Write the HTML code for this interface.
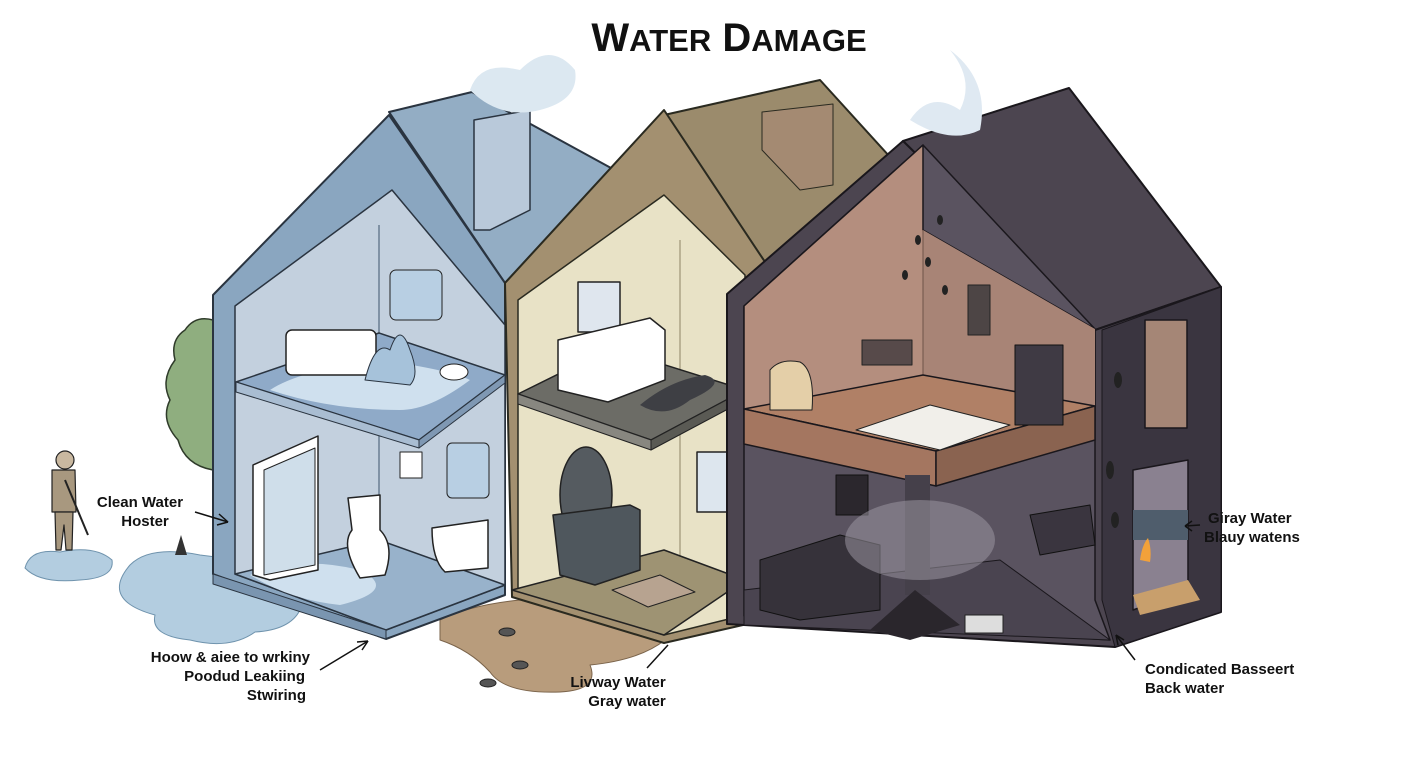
<!DOCTYPE html>
<html><head><meta charset="utf-8"><style>
html,body{margin:0;padding:0;background:#fff}
svg{display:block}
text{font-family:"Liberation Sans",sans-serif;font-weight:bold;fill:#111}
</style></head><body>
<svg width="1408" height="768" viewBox="0 0 1408 768" xmlns="http://www.w3.org/2000/svg" stroke-linejoin="round">
<rect width="1408" height="768" fill="#fff"/>
<text x="729" y="51" text-anchor="middle" font-size="40" font-weight="900">W<tspan font-size="31">ATER</tspan> D<tspan font-size="31">AMAGE</tspan></text>

<path d="M25 568 Q30 548 60 552 Q95 545 112 560 Q115 578 80 580 Q40 584 25 568Z" fill="#b3cde0" stroke="#6f93ad"/>
<path d="M130 565 Q150 545 200 555 L240 560 L300 610 Q290 630 255 632 Q230 650 190 640 Q150 636 155 615 Q100 600 130 565Z" fill="#b3cde0" stroke="#6f93ad"/>
<path d="M440 620 Q470 605 520 600 L665 640 Q640 660 590 665 Q600 690 560 692 Q505 694 490 672 Q470 650 440 640Z" fill="#b89c7c" stroke="#7a634a"/>
<g fill="#555" stroke="#222"><ellipse cx="507" cy="632" rx="8" ry="4"/><ellipse cx="520" cy="665" rx="8" ry="4"/><ellipse cx="488" cy="683" rx="8" ry="4"/></g>

<path d="M213 320 Q195 315 185 330 Q170 340 175 360 Q160 380 170 400 Q160 420 178 440 Q185 465 213 470Z" fill="#8fae7f" stroke="#2f3b2a" stroke-width="1.5"/>

<g stroke="#222" stroke-width="1.2">
<circle cx="65" cy="460" r="9" fill="#c9b8a0"/>
<path d="M52 470 L75 470 L76 512 L52 512Z" fill="#a8987f"/>
<path d="M55 512 L73 512 L72 550 L66 550 L64 525 L61 550 L56 550Z" fill="#a8987f"/>
<line x1="65" y1="480" x2="88" y2="535" stroke-width="2"/>
</g>
<path d="M175 555 L181 535 L187 555Z" fill="#333"/>

<!-- HOUSE 1 -->
<polygon points="389,112 472,92 611,168 505,283" fill="#93adc4" stroke="#2a3440" stroke-width="2"/>
<polygon points="213,295 389,115 505,283 505,595 386,639 213,574" fill="#8aa6c0" stroke="#2a3440" stroke-width="2"/>
<polygon points="235,306 392,190 505,325 505,585 386,630 235,574" fill="#c3d0de" stroke="#2a3440" stroke-width="1.5"/>
<line x1="379" y1="225" x2="379" y2="560" stroke="#6a7e92" stroke-width="1.5"/>
<polygon points="236,382 379,333 505,375 419,440" fill="#8faac8" stroke="#2a3440" stroke-width="1.5"/>
<polygon points="236,382 419,440 419,448 236,392" fill="#a9bdd2" stroke="#2a3440"/>
<polygon points="419,440 505,375 505,383 419,448" fill="#7f98b3" stroke="#2a3440"/>
<path d="M270 390 Q300 370 380 360 Q450 370 470 380 Q430 410 400 410 Q330 410 270 390Z" fill="#cfe0ee"/>
<polygon points="235,574 379,540 505,585 386,630" fill="#98b2cb" stroke="#2a3440" stroke-width="1.5"/>
<polygon points="213,574 386,630 386,639 213,584" fill="#7a95b0" stroke="#2a3440"/>
<path d="M250 575 Q300 555 360 570 Q400 590 340 605 Q290 600 250 575Z" fill="#cfe0ee"/>
<polygon points="474,120 530,110 530,210 490,230 474,230" fill="#b9c9da" stroke="#2a3440" stroke-width="1.5"/>
<path d="M470 90 Q480 60 520 70 Q550 40 575 70 Q580 100 540 110 Q500 120 470 90Z" fill="#dce8f1"/>
<rect x="286" y="330" width="90" height="45" rx="6" fill="#fff" stroke="#222" stroke-width="1.5"/>
<rect x="390" y="270" width="52" height="50" rx="6" fill="#b8cfe3" stroke="#222"/>
<path d="M365 380 Q375 340 390 350 Q400 320 410 350 Q420 375 410 385Z" fill="#a6c2da" stroke="#2a3440"/>
<ellipse cx="454" cy="372" rx="14" ry="8" fill="#fff" stroke="#222"/>
<polygon points="253,465 318,436 318,570 270,580 253,575" fill="#fff" stroke="#222" stroke-width="1.5"/>
<polygon points="264,470 315,448 315,565 264,575" fill="#cfdeea" stroke="#222"/>
<rect x="400" y="452" width="22" height="26" fill="#fff" stroke="#222"/>
<rect x="447" y="443" width="42" height="55" rx="5" fill="#b8cfe3" stroke="#222"/>
<path d="M348 498 L380 495 L380 530 Q395 545 385 575 L360 578 Q340 545 352 530Z" fill="#fff" stroke="#222" stroke-width="1.5"/>
<path d="M432 528 L488 520 L488 568 L445 572 Q432 560 432 528Z" fill="#fff" stroke="#222" stroke-width="1.5"/>

<!-- HOUSE 2 -->
<polygon points="664,115 820,80 890,157 765,262" fill="#9b8b6c" stroke="#2a2a20" stroke-width="2"/>
<polygon points="505,283 664,110 765,262 765,620 664,643 512,597" fill="#a39070" stroke="#2a2a20" stroke-width="2"/>
<polygon points="518,300 664,195 745,275 745,615 664,635 518,590" fill="#e8e2c6" stroke="#2a2a20" stroke-width="1.5"/>
<line x1="680" y1="240" x2="680" y2="560" stroke="#8e8466"/>
<polygon points="762,112 833,104 833,185 800,190 762,150" fill="#a48a72" stroke="#2a2a20"/>
<polygon points="518,394 611,348 745,390 651,440" fill="#6c6c66" stroke="#222" stroke-width="1.5"/>
<polygon points="518,394 651,440 651,450 518,404" fill="#888780" stroke="#222"/>
<polygon points="651,440 745,390 745,400 651,450" fill="#5a5a54" stroke="#222"/>
<path d="M640 405 Q670 380 705 375 Q730 382 690 400 Q665 420 640 405Z" fill="#3e3f44"/>
<rect x="578" y="282" width="42" height="50" fill="#dfe6ee" stroke="#222" stroke-width="1.5"/>
<polygon points="558,340 650,318 665,330 665,380 608,402 558,390" fill="#fff" stroke="#222" stroke-width="1.5"/>
<polygon points="512,590 664,550 745,580 664,635" fill="#9e9373" stroke="#222" stroke-width="1.5"/>
<ellipse cx="586" cy="495" rx="26" ry="48" fill="#555b60" stroke="#222" stroke-width="1.5"/>
<polygon points="553,515 630,505 640,510 640,570 595,585 560,575" fill="#4f575d" stroke="#222" stroke-width="1.5"/>
<polygon points="612,590 660,575 695,592 648,607" fill="#b7a390" stroke="#222"/>
<rect x="697" y="452" width="30" height="60" fill="#dde6ee" stroke="#222" stroke-width="1.5"/>

<!-- HOUSE 3 -->
<polygon points="903,141 1069,88 1221,287 1095,330" fill="#4c4550" stroke="#1a171c" stroke-width="2"/>
<polygon points="727,294 903,141 1095,330 1221,287 1221,612 1115,647 727,624" fill="#4c4550" stroke="#1a171c" stroke-width="2"/>
<path d="M910 120 Q930 90 960 110 Q975 80 950 50 Q990 80 980 130 Q950 145 910 120Z" fill="#dfe9f2"/>
<polygon points="744,306 923,145 1095,329 1095,600 1110,640 744,616" fill="#5a5360" stroke="#1a171c" stroke-width="1.5"/>
<polygon points="744,306 923,145 923,230 1095,329 1095,420 936,451 744,409" fill="#b48e7e" stroke="#1a171c" stroke-width="1.5"/>
<polygon points="923,230 1095,329 1095,410 923,380" fill="#a88476"/>
<line x1="923" y1="230" x2="923" y2="380" stroke="#6e5348"/>
<polygon points="744,409 923,375 1095,406 936,451" fill="#b08066" stroke="#1a171c" stroke-width="1.5"/>
<polygon points="744,409 936,451 936,486 744,444" fill="#a47660" stroke="#1a171c" stroke-width="1.5"/>
<polygon points="936,451 1095,406 1095,440 936,486" fill="#8a6350" stroke="#1a171c" stroke-width="1.5"/>
<polygon points="856,430 930,405 1010,425 940,450" fill="#f1efea" stroke="#222"/>
<rect x="1015" y="345" width="48" height="80" fill="#3f3a44" stroke="#111"/>
<path d="M770 410 L770 370 Q780 358 800 362 Q815 370 812 410Z" fill="#e4cfa8" stroke="#222"/>
<rect x="862" y="340" width="50" height="25" fill="#574a4a" stroke="#222"/>
<rect x="968" y="285" width="22" height="50" fill="#4d4545" stroke="#222"/>
<polygon points="1102,330 1221,287 1221,612 1115,647 1102,600" fill="#3a3540" stroke="#1a171c"/>
<rect x="1145" y="320" width="42" height="108" fill="#a58676" stroke="#1a171c" stroke-width="1.5"/>
<polygon points="1133,470 1188,460 1188,590 1133,610" fill="#8a8190" stroke="#1a171c" stroke-width="1.5"/>
<rect x="1133" y="510" width="55" height="30" fill="#4f5d6c"/>
<polygon points="1133,595 1188,580 1200,600 1140,615" fill="#c89f6c"/>
<path d="M1140 560 Q1142 545 1148 538 Q1152 550 1150 562Z" fill="#f2a13a"/>
<polygon points="744,590 1000,560 1110,640 744,625" fill="#4a4450" stroke="#1a171c"/>
<rect x="905" y="475" width="25" height="120" fill="#45404a"/>
<rect x="836" y="475" width="32" height="40" fill="#2b272d" stroke="#111"/>
<polygon points="760,560 840,535 880,545 880,610 800,620 760,610" fill="#36323a" stroke="#111"/>
<polygon points="1030,515 1090,505 1095,545 1040,555" fill="#3a353f" stroke="#111"/>
<ellipse cx="920" cy="540" rx="75" ry="40" fill="#9a96a0" opacity="0.55"/>
<polygon points="870,630 915,590 960,625 910,640" fill="#2a262c"/>
<rect x="965" y="615" width="38" height="18" fill="#ddd" stroke="#222"/>
<g fill="#222"><ellipse cx="918" cy="240" rx="3" ry="5"/><ellipse cx="940" cy="220" rx="3" ry="5"/><ellipse cx="928" cy="262" rx="3" ry="5"/><ellipse cx="945" cy="290" rx="3" ry="5"/><ellipse cx="905" cy="275" rx="3" ry="5"/><ellipse cx="1118" cy="380" rx="4" ry="8"/><ellipse cx="1110" cy="470" rx="4" ry="9"/><ellipse cx="1115" cy="520" rx="4" ry="8"/></g>

<text x="140" y="507" text-anchor="middle" font-size="15">Clean Water</text>
<text x="145" y="526" text-anchor="middle" font-size="15">Hoster</text>
<line x1="195" y1="512" x2="228" y2="522" stroke="#111" stroke-width="1.5"/>
<path d="M228 522 L219 514 M228 522 L217 525" stroke="#111" stroke-width="1.5" fill="none"/>
<text x="310" y="662" text-anchor="end" font-size="15">Hoow &amp; aiee to wrkiny</text>
<text x="305" y="681" text-anchor="end" font-size="15">Poodud Leakiing</text>
<text x="306" y="700" text-anchor="end" font-size="15">Stwiring</text>
<line x1="320" y1="670" x2="368" y2="641" stroke="#111" stroke-width="1.5"/>
<path d="M368 641 L357 642 M368 641 L362 650" stroke="#111" stroke-width="1.5" fill="none"/>
<text x="618" y="687" text-anchor="middle" font-size="15">Livway Water</text>
<text x="627" y="706" text-anchor="middle" font-size="15">Gray water</text>
<line x1="647" y1="668" x2="668" y2="645" stroke="#111" stroke-width="1.5"/>
<text x="1208" y="523" font-size="15">Giray Water</text>
<text x="1204" y="542" font-size="15">Blauy watens</text>
<line x1="1200" y1="525" x2="1185" y2="526" stroke="#111" stroke-width="1.5"/>
<path d="M1185 526 L1192 521 M1185 526 L1192 531" stroke="#111" stroke-width="1.5" fill="none"/>
<text x="1145" y="674" font-size="15">Condicated Basseert</text>
<text x="1145" y="693" font-size="15">Back water</text>
<line x1="1135" y1="660" x2="1116" y2="635" stroke="#111" stroke-width="1.5"/>
<path d="M1116 635 L1118 645 M1116 635 L1124 640" stroke="#111" stroke-width="1.5" fill="none"/>
</svg>
</body></html>
